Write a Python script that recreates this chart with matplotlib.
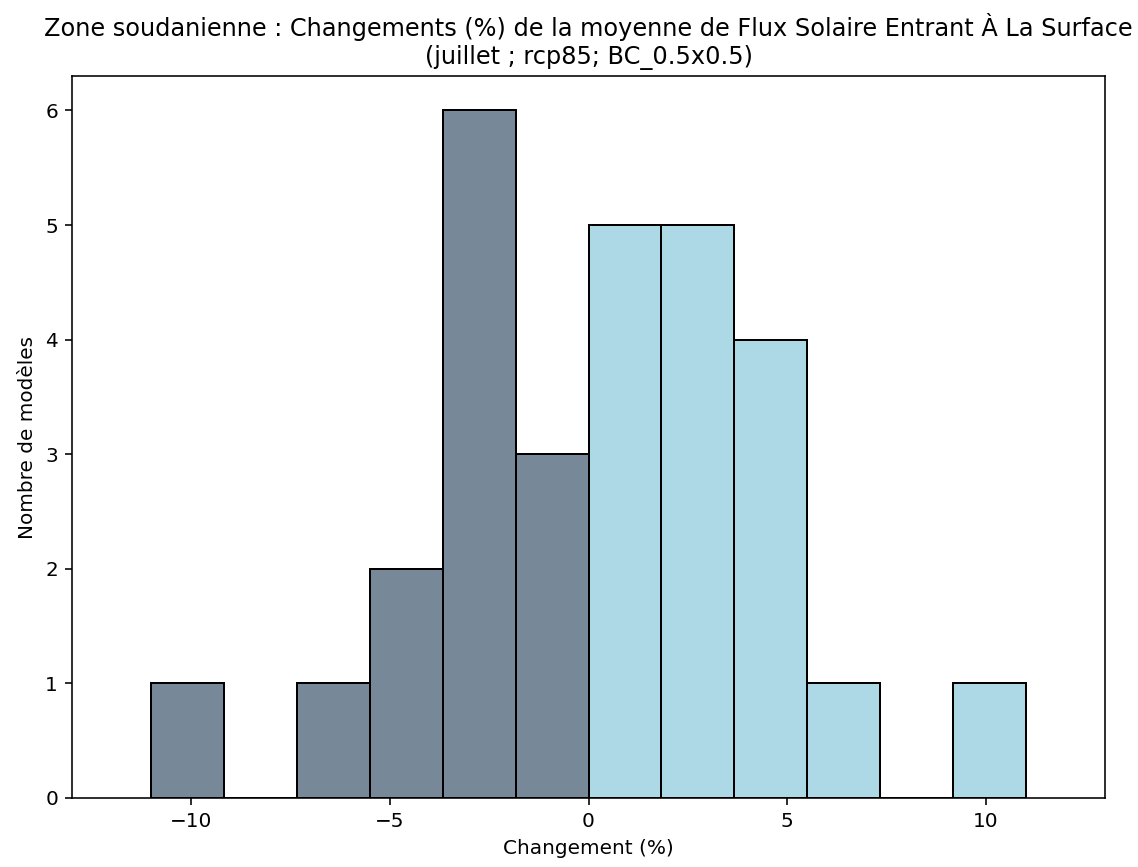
import numpy as np
import matplotlib
matplotlib.use("Agg")
import matplotlib.pyplot as plt

# ── data ─────────────────────────────────────────────────────────────────────
bin_left = [-11.0, -9.167, -7.333, -5.5, -3.667, -1.833,
            0.0, 1.833, 3.667, 5.5, 7.333, 9.167]
bin_width = 1.833
counts = [1, 0, 1, 2, 6, 3, 5, 5, 4, 1, 0, 1]

NEG_COLOR = "#778899"   # slategray
POS_COLOR = "#ADD8E6"   # lightblue

colors = [NEG_COLOR if b < 0 else POS_COLOR for b in bin_left]

# ── figure ───────────────────────────────────────────────────────────────────
DPI = 144
fig = plt.figure(figsize=(1138 / DPI, 867 / DPI), dpi=DPI)
ax = fig.add_axes([0.0633, 0.0796, 0.9077, 0.8327])

ax.bar(bin_left, counts, width=bin_width, align="edge",
       color=colors, edgecolor="black", linewidth=1.0)

ax.set_xlim(-13, 13)
ax.set_xticks([-10, -5, 0, 5, 10])
ax.set_xlabel("Changement (%)")
ax.set_ylabel("Nombre de modèles")
ax.set_title("Zone soudanienne : Changements (%) de la moyenne de Flux Solaire Entrant À La Surface\n"
             "(juillet ; rcp85; BC_0.5x0.5)")

fig.savefig("out.png", dpi=DPI)
